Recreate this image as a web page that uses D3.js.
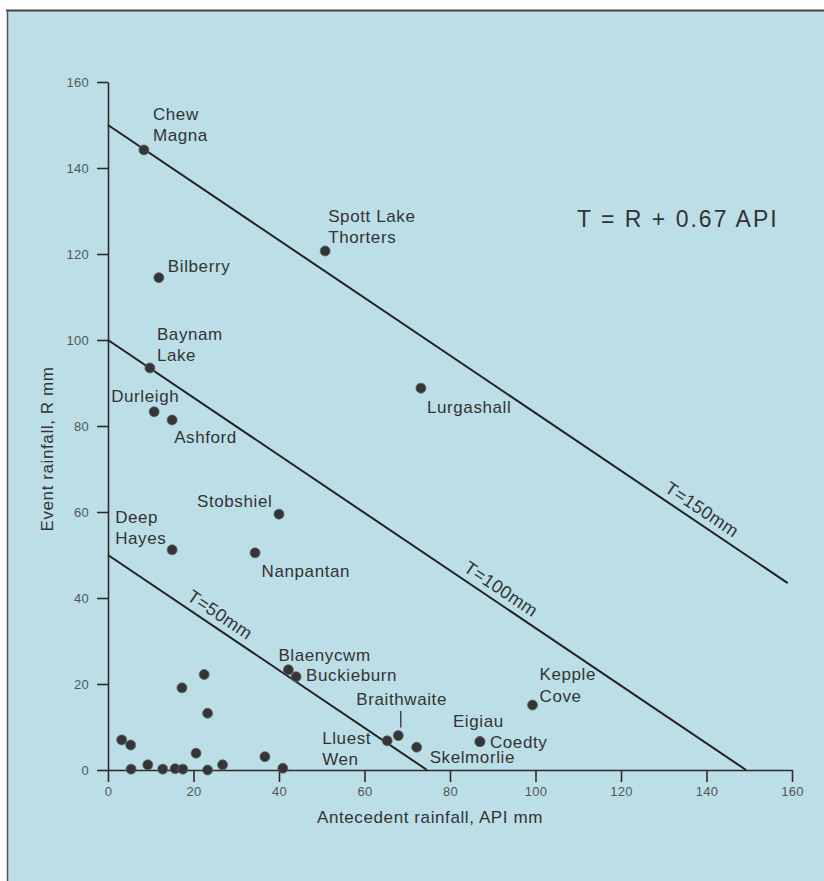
<!DOCTYPE html>
<html>
<head>
<meta charset="utf-8">
<script src="https://cdn.jsdelivr.net/npm/d3@7"></script>
<style>
  body { margin: 0; background: #ffffff; }
  svg { display: block; }
  text { font-family: "Liberation Sans", Arial, Helvetica, sans-serif; }
</style>
</head>
<body>
<svg id="chart" width="824" height="881"></svg>
<script>
// Named reservoir events: antecedent rainfall (API, mm) and event rainfall (R, mm)
const sites = ["Chew Magna", "Spott Lake Thorters", "Bilberry", "Baynam Lake", "Durleigh",
  "Ashford", "Lurgashall", "Stobshiel", "Nanpantan", "Deep Hayes", "Blaenycwm",
  "Buckieburn", "Braithwaite", "Lluest Wen", "Skelmorlie", "Eigiau", "Coedty", "Kepple Cove"];
const siteApi  = [8.4, 50.8, 11.9, 9.8, 10.8, 15.0, 73.2, 40.0, 34.4, 15.0, 42.2,
  44.0, 67.9, 65.3, 72.2, 87.0, 87.0, 99.3];
const siteRain = [144.2, 120.7, 114.5, 93.5, 83.3, 81.4, 88.8, 59.5, 50.5, 51.2, 23.3,
  21.7, 8.0, 6.8, 5.3, 6.6, 6.6, 15.1];

// Other events plotted without names
const otherApi  = [3.2, 5.3, 5.4, 9.3, 12.8, 15.7, 17.5, 17.3, 22.5, 23.3, 20.6, 23.3, 26.8, 36.7, 40.9];
const otherRain = [7.0, 5.8, 0.2, 1.2, 0.2, 0.3, 0.2, 19.1, 22.2, 13.2, 3.9, 0.0, 1.2, 3.1, 0.4];

// Threshold lines T = R + 0.67 API
const thresholds = [50, 100, 150];
const apiCoefficient = 0.67;
const thresholdLabels = ["T=50mm", "T=100mm", "T=150mm"];

const xTicks = [0, 20, 40, 60, 80, 100, 120, 140, 160];
const yTicks = [0, 20, 40, 60, 80, 100, 120, 140, 160];

const xTitle = "Antecedent rainfall, API mm";
const yTitle = "Event rainfall, R mm";
const equation = "T = R + 0.67 API";

// Label layout: text lines and pixel offset of the first baseline from the dot
const labelLayout = {
  "Chew Magna":          { lines: ["Chew", "Magna"], dx: 9, dy: -30 },
  "Spott Lake Thorters": { lines: ["Spott Lake", "Thorters"], dx: 3, dy: -29 },
  "Bilberry":            { lines: ["Bilberry"], dx: 9, dy: -6 },
  "Baynam Lake":         { lines: ["Baynam", "Lake"], dx: 7, dy: -28 },
  "Durleigh":            { lines: ["Durleigh"], dx: -43, dy: -9.5 },
  "Ashford":             { lines: ["Ashford"], dx: 2, dy: 23.5 },
  "Lurgashall":          { lines: ["Lurgashall"], dx: 6, dy: 25 },
  "Stobshiel":           { lines: ["Stobshiel"], dx: -82, dy: -7 },
  "Nanpantan":           { lines: ["Nanpantan"], dx: 6.5, dy: 24.5 },
  "Deep Hayes":          { lines: ["Deep", "Hayes"], dx: -57, dy: -27 },
  "Blaenycwm":           { lines: ["Blaenycwm"], dx: -10, dy: -9 },
  "Buckieburn":          { lines: ["Buckieburn"], dx: 10, dy: 4 },
  "Braithwaite":         { lines: ["Braithwaite"], dx: -42, dy: -31, leader: true },
  "Lluest Wen":          { lines: ["Lluest", "Wen"], dx: -65, dy: 3 },
  "Skelmorlie":          { lines: ["Skelmorlie"], dx: 13, dy: 16 },
  "Eigiau":              { lines: ["Eigiau"], dx: -27, dy: -14.5 },
  "Coedty":              { lines: ["Coedty"], dx: 10, dy: 6.5 },
  "Kepple Cove":         { lines: ["Kepple", "Cove"], dx: 7, dy: -25 }
};
// API position along each threshold line where its label sits
const thresholdLabelAt = [24.5, 90.2, 137.2];

const svg = d3.select("#chart");
const W = 824, H = 881;
const ink = "#2b2b2b";
const textInk = "#333333";

// Panel background and frame
svg.append("rect").attr("x", 7).attr("y", 10).attr("width", W - 7).attr("height", H - 10)
  .attr("fill", "#bcdfe7");
svg.append("line").attr("x1", 6).attr("x2", W).attr("y1", 10.5).attr("y2", 10.5)
  .attr("stroke", "#454545").attr("stroke-width", 2);
svg.append("line").attr("x1", 7.5).attr("x2", 7.5).attr("y1", 10).attr("y2", H)
  .attr("stroke", "#555555").attr("stroke-width", 1.5);

const x = d3.scaleLinear().domain([0, 160]).range([108, 792]);
const y = d3.scaleLinear().domain([0, 160]).range([770, 82]);

// Axes
const xAxis = svg.append("g").attr("transform", `translate(0,${y(0)})`)
  .call(d3.axisBottom(x).tickValues(xTicks).tickSize(12).tickSizeOuter(0).tickPadding(5));
const yAxis = svg.append("g").attr("transform", `translate(${x(0)},0)`)
  .call(d3.axisLeft(y).tickValues(yTicks).tickSize(11).tickSizeOuter(0).tickPadding(8));
[xAxis, yAxis].forEach(g => {
  g.select(".domain").attr("stroke", ink).attr("stroke-width", 1.6);
  g.selectAll(".tick line").attr("stroke", ink).attr("stroke-width", 1.6);
  g.selectAll(".tick text").attr("fill", "#555555").attr("font-size", 13)
    .style("letter-spacing", "0.3px");
});

// Threshold lines
const lineGen = d3.line().x(d => x(d[0])).y(d => y(d[1]));
thresholds.forEach((T, i) => {
  const apiEnd = Math.min(159, T / apiCoefficient);
  svg.append("path")
    .attr("d", lineGen([[0, T], [apiEnd, T - apiCoefficient * apiEnd]]))
    .attr("fill", "none").attr("stroke", "#222222").attr("stroke-width", 2);

  const a = thresholdLabelAt[i];
  const px = x(a), py = y(T - apiCoefficient * a);
  const angle = Math.atan2(y(T - apiCoefficient * (a + 1)) - py, x(a + 1) - px) * 180 / Math.PI;
  svg.append("text")
    .attr("transform", `translate(${px},${py}) rotate(${angle})`)
    .attr("text-anchor", "middle").attr("dy", -7)
    .attr("font-size", 18).style("letter-spacing", "0.4px")
    .attr("fill", textInk).text(thresholdLabels[i]);
});

// Unnamed events
svg.append("g").selectAll("circle")
  .data(otherApi.map((v, i) => [v, otherRain[i]]))
  .join("circle")
  .attr("cx", d => x(d[0])).attr("cy", d => y(d[1])).attr("r", 5)
  .attr("fill", "#353535").attr("stroke", "#5a6a6e").attr("stroke-width", 0.8);

// Named events with labels
const named = sites.map((s, i) => ({ name: s, api: siteApi[i], rain: siteRain[i] }));
svg.append("g").selectAll("circle")
  .data(named)
  .join("circle")
  .attr("cx", d => x(d.api)).attr("cy", d => y(d.rain)).attr("r", 5)
  .attr("fill", "#353535").attr("stroke", "#5a6a6e").attr("stroke-width", 0.8);

const labels = svg.append("g");
named.forEach(d => {
  const L = labelLayout[d.name];
  const cx = x(d.api), cy = y(d.rain);
  const t = labels.append("text")
    .attr("font-size", 17).style("letter-spacing", "0.6px").attr("fill", textInk);
  L.lines.forEach((ln, k) => {
    t.append("tspan").attr("x", cx + L.dx).attr("y", cy + L.dy + k * 21.5).text(ln);
  });
  if (L.leader) {
    labels.append("line")
      .attr("x1", cx + 2.5).attr("x2", cx + 2.5)
      .attr("y1", cy - 24.5).attr("y2", cy - 8)
      .attr("stroke", textInk).attr("stroke-width", 1.3);
  }
});

// Equation
svg.append("text").attr("x", 577).attr("y", 226.5)
  .attr("font-size", 23).style("letter-spacing", "2px")
  .attr("fill", textInk).text(equation);

// Axis titles
svg.append("text").attr("x", 430).attr("y", 823)
  .attr("text-anchor", "middle").attr("font-size", 17).style("letter-spacing", "0.6px")
  .attr("fill", textInk).text(xTitle);
svg.append("text")
  .attr("transform", "translate(53,449) rotate(-90)")
  .attr("text-anchor", "middle").attr("font-size", 17).style("letter-spacing", "0.6px")
  .attr("fill", textInk).text(yTitle);
</script>
</body>
</html>
